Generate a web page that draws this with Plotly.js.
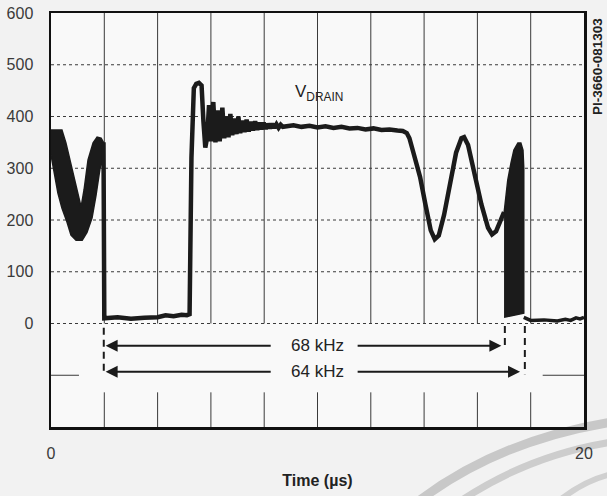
<!DOCTYPE html>
<html><head><meta charset="utf-8">
<script src="https://cdn.plot.ly/plotly-3.0.1.min.js"></script>
<style>html,body{margin:0;padding:0;background:#f2f2f2;}#c{width:607px;height:496px;}</style>
</head><body><div id="c"></div>
<script>
// ---- data (time in µs, voltage in V) ----
const band1UpperT = [0, 0.41, 0.56, 0.71, 0.86, 0.98, 1.13, 1.24, 1.39, 1.58, 1.73, 1.88, 1.97];
const band1UpperV = [374, 374, 349, 316, 281, 252, 225, 258, 316, 349, 360, 358, 350];
const band1LowerT = [0, 0.04, 0.15, 0.26, 0.41, 0.60, 0.75, 0.94, 1.17, 1.35, 1.54, 1.69, 1.84, 1.97];
const band1LowerV = [326, 316, 281, 252, 223, 196, 171, 161, 161, 176, 204, 248, 300, 320];

const mainT = [1.97, 1.99, 2.0, 2.5, 3.0, 3.5, 4.0, 4.3, 4.6, 4.9, 5.1, 5.2,
  5.27, 5.36, 5.45, 5.55, 5.65, 5.72, 5.79, 5.86, 5.93, 6.0, 6.09, 6.17, 6.25, 6.33, 6.43, 6.5, 6.58,
  6.66, 6.73, 6.8, 6.88, 6.96, 7.03, 7.1, 7.18, 7.26, 7.34, 7.42, 7.5, 7.58, 7.66, 7.74, 7.82, 7.9, 7.98,
  8.06, 8.14, 8.22, 8.3, 8.38, 8.46, 8.54, 8.62, 8.7,
  8.8, 9.1, 9.4, 9.7, 10.0, 10.3, 10.6, 10.9, 11.2, 11.5, 11.8, 12.1, 12.4, 12.7, 13.0, 13.2, 13.35,
  13.45, 13.6, 13.85, 14.05, 14.25, 14.4, 14.55, 14.75, 15.0, 15.2, 15.4, 15.5, 15.65, 15.9, 16.15,
  16.4, 16.55, 16.7, 16.9, 17.0];
const mainV = [350, 12, 10, 12, 9, 11, 12, 16, 14, 17, 16, 18,
  320, 455, 463, 465, 460, 390, 340, 360, 422, 352, 428, 350, 412, 352, 417, 358, 400,
  360, 405, 364, 396, 366, 400, 368, 392, 370, 394, 371, 390, 373, 391, 374, 388, 375, 388,
  376, 386, 377, 386, 378, 385, 378, 384, 380,
  381, 383, 380, 382, 379, 381, 378, 380, 377, 378, 375, 377, 374, 375, 373, 372, 368,
  358, 330, 283, 230, 180, 163, 170, 210, 280, 330, 358, 360, 345, 290, 230,
  185, 172, 178, 200, 215];

const band2T = [17.0, 17.14, 17.26, 17.37, 17.52, 17.63, 17.71, 17.74, 17.74, 17.0];
const band2V = [213, 277, 310, 335, 349, 349, 335, 300, 20, 12];

const tailT = [17.74, 18.0, 18.5, 19.0, 19.3, 19.5, 19.7, 19.85, 20];
const tailV = [12, 6, 7, 5, 8, 6, 11, 9, 12];

const yTicks = [0, 100, 200, 300, 400, 500, 600];
const xTickVals = [0, 20];
const xTickText = ['0', '20'];
const gridX = [2, 4, 6, 8, 10, 12, 14, 16, 18];
const gridY = [0, 100, 200, 300, 400, 500];
const freqLabels = ['68 kHz', '64 kHz'];
const periodStart = [2.05, 2.05];
const periodEnd = [16.9, 17.6];
const periodMarkerT = [17.03, 17.78];
const periodLevel = [-43, -93];
const traceLabel = 'V<sub>DRAIN</sub>';

// ---- build ----
const ink = '#1b1b1b';
const FONT = 'Liberation Sans, Arial, sans-serif';
const band1 = {
  x: band1UpperT.concat(band1LowerT.slice().reverse()),
  y: band1UpperV.concat(band1LowerV.slice().reverse()),
  mode: 'lines', fill: 'toself', fillcolor: ink, line: {color: ink, width: 1.5},
  hoverinfo: 'skip', showlegend: false
};
const main = {x: mainT, y: mainV, mode: 'lines', line: {color: ink, width: 4.5, shape: 'linear'}, showlegend: false};
const band2 = {x: band2T, y: band2V, mode: 'lines', fill: 'toself', fillcolor: ink, line: {color: ink, width: 1.5}, showlegend: false};
const tail = {x: tailT, y: tailV, mode: 'lines', line: {color: ink, width: 3.5}, showlegend: false};

const W = 607, H = 496, mL = 51, mR = 23, mT = 13, mB = 69;
function px2paper(px, py) { return [(px - mL) / (W - mL - mR), 1 - (py - mT) / (H - mT - mB)]; }
function arcPath(pts) {
  const p = pts.map(q => px2paper(q[0], q[1]));
  return `M${p[0][0]},${p[0][1]} Q${p[1][0]},${p[1][1]} ${p[2][0]},${p[2][1]}`;
}

const shapes = [];
gridX.forEach(x => {
  shapes.push({type: 'line', xref: 'x', yref: 'y', x0: x, x1: x, y0: 0, y1: 600, line: {color: '#3a3a3a', width: 1}, layer: 'below'});
  shapes.push({type: 'line', xref: 'x', yref: 'y', x0: x, x1: x, y0: -133, y1: -200, line: {color: '#3a3a3a', width: 1}, layer: 'below'});
});
gridY.forEach(y => {
  shapes.push({type: 'line', xref: 'x', yref: 'y', x0: 0, x1: 20, y0: y, y1: y, line: {color: '#3a3a3a', width: 1, dash: 'dot'}, layer: 'below'});
});
shapes.push({type: 'line', xref: 'x', yref: 'y', x0: 0, x1: 1.05, y0: -100, y1: -100, line: {color: '#3a3a3a', width: 1}});
shapes.push({type: 'line', xref: 'x', yref: 'y', x0: 18.45, x1: 20, y0: -100, y1: -100, line: {color: '#3a3a3a', width: 1}});
shapes.push({type: 'line', xref: 'x', yref: 'y', x0: 1.98, x1: 1.98, y0: -8, y1: -100, line: {color: ink, width: 2, dash: '7px,5px'}});
periodMarkerT.forEach((t, i) => {
  shapes.push({type: 'line', xref: 'x', yref: 'y', x0: t, x1: t, y0: -5, y1: periodLevel[i] - 5, line: {color: ink, width: 2, dash: '7px,5px'}});
});
shapes.push({type: 'path', xref: 'paper', yref: 'paper', layer: 'below', path: arcPath([[420, 500], [500, 440], [612, 422]]), line: {color: '#c8c8c8', width: 9}});
shapes.push({type: 'path', xref: 'paper', yref: 'paper', layer: 'below', path: arcPath([[462, 500], [530, 455], [612, 442]]), line: {color: '#cdcdcd', width: 7}});
shapes.push({type: 'path', xref: 'paper', yref: 'paper', layer: 'below', path: arcPath([[560, 500], [585, 480], [612, 474]]), line: {color: '#d0d0d0', width: 6}});

const annotations = [];
freqLabels.forEach((lab, i) => {
  const y = periodLevel[i];
  annotations.push({x: 10.0, y: y, xref: 'x', yref: 'y', text: lab, showarrow: false, font: {family: FONT, size: 17, color: '#222'}});
  annotations.push({x: periodStart[i], y: y, ax: 8.3, ay: y, xref: 'x', yref: 'y', axref: 'x', ayref: 'y', text: '', showarrow: true, arrowhead: 2, arrowsize: 1.2, arrowwidth: 2, arrowcolor: ink});
  annotations.push({x: periodEnd[i], y: y, ax: 11.45, ay: y, xref: 'x', yref: 'y', axref: 'x', ayref: 'y', text: '', showarrow: true, arrowhead: 2, arrowsize: 1.2, arrowwidth: 2, arrowcolor: ink});
});
annotations.push({x: 10.05, y: 446, xref: 'x', yref: 'y', xanchor: 'center', yanchor: 'middle', text: traceLabel, showarrow: false, font: {family: FONT, size: 17, color: '#222'}});
const pp = px2paper(597, 67);
annotations.push({x: pp[0], y: pp[1], xref: 'paper', yref: 'paper', xanchor: 'center', yanchor: 'middle', text: '<b>PI-3660-081303</b>', showarrow: false, textangle: -90, font: {family: FONT, size: 13.5, color: '#222'}});

const layout = {
  width: W, height: H,
  margin: {l: mL, r: mR, t: mT, b: mB, pad: 0},
  paper_bgcolor: '#f2f2f2', plot_bgcolor: '#f9f9f9',
  font: {family: FONT, color: '#3a3a3a', size: 16},
  showlegend: false,
  xaxis: {range: [0, 20], tickvals: xTickVals, ticktext: xTickText, showgrid: false, zeroline: false,
    showline: true, mirror: true, linecolor: '#111', linewidth: 2.5, ticks: '', ticklabelstandoff: 10,
    title: {text: 'Time (µs)', font: {size: 16, weight: 'bold', color: '#222'}, standoff: 14}, fixedrange: true},
  yaxis: {range: [-200, 600], tickvals: yTicks, showgrid: false, zeroline: false,
    showline: true, mirror: true, linecolor: '#111', linewidth: 2.5, ticks: '', ticklabelstandoff: 12, fixedrange: true},
  shapes: shapes, annotations: annotations
};
Plotly.newPlot('c', [band1, main, band2, tail], layout, {staticPlot: true, displayModeBar: false});
</script></body></html>
